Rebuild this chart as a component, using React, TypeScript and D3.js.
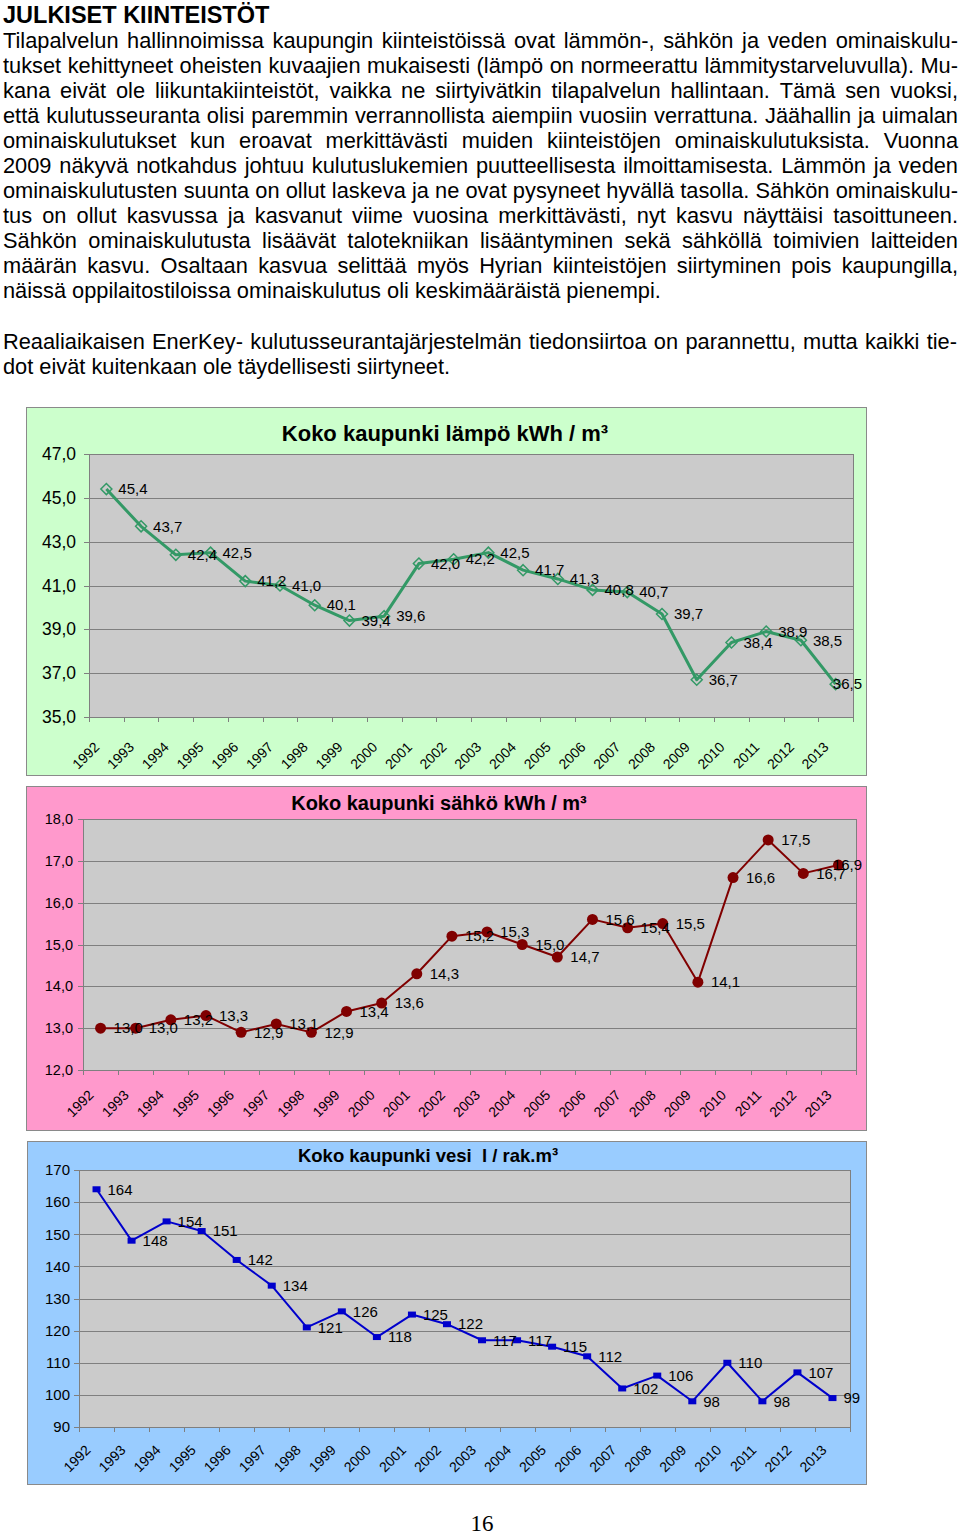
import React, { useMemo } from 'react';
import * as d3 from 'd3';

const FONT = '"Liberation Sans", Arial, Helvetica, sans-serif';

const years = ['1992','1993','1994','1995','1996','1997','1998','1999','2000','2001','2002','2003','2004','2005','2006','2007','2008','2009','2010','2011','2012','2013'];
const heatValues = [45.4, 43.7, 42.4, 42.5, 41.2, 41.0, 40.1, 39.4, 39.6, 42.0, 42.2, 42.5, 41.7, 41.3, 40.8, 40.7, 39.7, 36.7, 38.4, 38.9, 38.5, 36.5];
const elecValues = [13.0, 13.0, 13.2, 13.3, 12.9, 13.1, 12.9, 13.4, 13.6, 14.3, 15.2, 15.3, 15.0, 14.7, 15.6, 15.4, 15.5, 14.1, 16.6, 17.5, 16.7, 16.9];
const waterValues = [164, 148, 154, 151, 142, 134, 121, 126, 118, 125, 122, 117, 117, 115, 112, 102, 106, 98, 110, 98, 107, 99];
const heatTicks = [35, 37, 39, 41, 43, 45, 47];
const elecTicks = [12, 13, 14, 15, 16, 17, 18];
const waterTicks = [90, 100, 110, 120, 130, 140, 150, 160, 170];

const heading = 'JULKISET KIINTEISTÖT';
const paragraph1 = [
  'Tilapalvelun hallinnoimissa kaupungin kiinteistöissä ovat lämmön-, sähkön ja veden ominaiskulu-',
  'tukset kehittyneet oheisten kuvaajien mukaisesti (lämpö on normeerattu lämmitystarveluvulla). Mu-',
  'kana eivät ole liikuntakiinteistöt, vaikka ne siirtyivätkin tilapalvelun hallintaan. Tämä sen vuoksi,',
  'että kulutusseuranta olisi paremmin verrannollista aiempiin vuosiin verrattuna. Jäähallin ja uimalan',
  'ominaiskulutukset kun eroavat merkittävästi muiden kiinteistöjen ominaiskulutuksista. Vuonna',
  '2009 näkyvä notkahdus johtuu kulutuslukemien puutteellisesta ilmoittamisesta. Lämmön ja veden',
  'ominaiskulutusten suunta on ollut laskeva ja ne ovat pysyneet hyvällä tasolla. Sähkön ominaiskulu-',
  'tus on ollut kasvussa ja kasvanut viime vuosina merkittävästi, nyt kasvu näyttäisi tasoittuneen.',
  'Sähkön ominaiskulutusta lisäävät talotekniikan lisääntyminen sekä sähköllä toimivien laitteiden',
  'määrän kasvu. Osaltaan kasvua selittää myös Hyrian kiinteistöjen siirtyminen pois kaupungilla,',
  'näissä oppilaitostiloissa ominaiskulutus oli keskimääräistä pienempi.',
];
const paragraph2 = [
  'Reaaliaikaisen EnerKey- kulutusseurantajärjestelmän tiedonsiirtoa on parannettu, mutta kaikki tie-',
  'dot eivät kuitenkaan ole täydellisesti siirtyneet.',
];
const pageNumber = '16';

const BODY_SIZE = 21.8;

let ctx: CanvasRenderingContext2D | null = null;
function measure(text: string, font: string) {
  if (!ctx) ctx = document.createElement('canvas').getContext('2d');
  ctx!.font = font;
  return ctx!.measureText(text).width;
}

function JustifiedLine({ text, y, justify, left, right }: { text: string; y: number; justify: boolean; left: number; right: number }) {
  const font = `${BODY_SIZE}px "Liberation Sans"`;
  if (!justify) {
    return <text x={left} y={y} fontSize={BODY_SIZE} fontFamily={FONT}>{text}</text>;
  }
  const words = text.split(' ');
  const widths = words.map(w => measure(w, font));
  const total = d3.sum(widths);
  const gap = (right - left - total) / (words.length - 1);
  let x = left;
  const xs = widths.map(w => { const cur = x; x += w + gap; return cur; });
  return (
    <g>
      {words.map((w, i) => (
        <text key={i} x={xs[i]} y={y} fontSize={BODY_SIZE} fontFamily={FONT}>{w}</text>
      ))}
    </g>
  );
}

type Spec = {
  frame: [number, number, number, number];
  plot: [number, number, number, number];
  domain: [number, number];
  ticks: number[];
  values: number[];
  decimals: number;
  title: string;
  titleX: number;
  titleY: number;
  titleSize: number;
  tickSize: number;
  tickRight: number;
  labelSize: number;
  labelDx: number;
  xLabelSize: number;
  xLabelDx: number;
  xLabelDy: number;
  bg: string;
  color: string;
  lineWidth: number;
  marker: 'diamond' | 'circle' | 'square';
};

function fmt(v: number, dec: number) {
  return d3.format(`.${dec}f`)(v).replace('.', ',');
}

function LineChart(s: Spec) {
  const [px0, py0, px1, py1] = s.plot;
  const x = d3.scaleBand<string>().domain(years).range([px0, px1]).padding(0);
  const y = d3.scaleLinear().domain(s.domain).range([py1, py0]);
  const cx = (i: number) => (x(years[i]) as number) + x.bandwidth() / 2;
  const line = d3.line<number>().x((_, i) => cx(i)).y(d => y(d));
  const [fx0, fy0, fx1, fy1] = s.frame;
  const grid = '#7f7f7f';
  const labelFont = `${s.labelSize}px "Liberation Sans"`;
  const labelLimit = fx1 - 4;
  return (
    <g>
      <rect x={fx0 + 0.5} y={fy0 + 0.5} width={fx1 - fx0} height={fy1 - fy0} fill={s.bg} stroke="#8a8a8a" strokeWidth={1} />
      <rect x={px0} y={py0} width={px1 - px0} height={py1 - py0} fill="#cbcbcb" />
      {s.ticks.map(t => (
        <g key={t}>
          <line x1={px0 - 5} x2={px1} y1={Math.round(y(t)) + 0.5} y2={Math.round(y(t)) + 0.5} stroke={grid} strokeWidth={1} />
          <text x={s.tickRight} y={y(t)} dy="0.35em" textAnchor="end" fontSize={s.tickSize} fontFamily={FONT}>{fmt(t, s.decimals)}</text>
        </g>
      ))}
      <line x1={px1 + 0.5} x2={px1 + 0.5} y1={py0} y2={py1} stroke={grid} />
      <line x1={px0 + 0.5} x2={px0 + 0.5} y1={py0} y2={py1} stroke={grid} />
      {years.concat(['end']).map((yr, i) => {
        const xx = Math.round(i < years.length ? (x(yr) as number) : px1) + 0.5;
        return <line key={i} x1={xx} x2={xx} y1={py1} y2={py1 + 5} stroke={grid} />;
      })}
      {years.map((yr, i) => {
        const ax = cx(i) + s.xLabelDx;
        const ay = py1 + s.xLabelDy;
        return (
          <text key={yr} x={ax} y={ay} transform={`rotate(-45 ${ax} ${ay})`} textAnchor="end" fontSize={s.xLabelSize} fontFamily={FONT}>{yr}</text>
        );
      })}
      <path d={line(s.values) || ''} fill="none" stroke={s.color} strokeWidth={s.lineWidth} strokeLinejoin="round" />
      {s.values.map((v, i) => {
        const mx = cx(i), my = y(v);
        if (s.marker === 'diamond') {
          const r = 5.5;
          return <path key={i} d={`M${mx},${my - r}L${mx + r},${my}L${mx},${my + r}L${mx - r},${my}Z`} fill="none" stroke={s.color} strokeWidth={1.5} />;
        }
        if (s.marker === 'circle') {
          return <circle key={i} cx={mx} cy={my} r={5.5} fill={s.color} />;
        }
        return <rect key={i} x={mx - 4} y={my - 3} width={8} height={6} fill={s.color} />;
      })}
      {s.values.map((v, i) => {
        const txt = fmt(v, s.decimals);
        const w = measure(txt, labelFont);
        const lx = Math.min(cx(i) + s.labelDx, labelLimit - w);
        return <text key={i} x={lx} y={y(v)} dy="0.35em" fontSize={s.labelSize} fontFamily={FONT}>{txt}</text>;
      })}
      <text x={s.titleX} y={s.titleY} textAnchor="middle" fontSize={s.titleSize} fontWeight="bold" fontFamily={FONT} style={{ whiteSpace: 'pre' }}>{s.title}</text>
    </g>
  );
}

export default function App() {
  const charts: Spec[] = useMemo(() => [
    {
      frame: [26, 407, 866, 775], plot: [89, 454, 853, 717], domain: [35, 47], ticks: heatTicks, values: heatValues, decimals: 1,
      title: 'Koko kaupunki lämpö kWh / m³', titleX: 445, titleY: 441, titleSize: 22,
      tickSize: 17.5, tickRight: 76, labelSize: 15, labelDx: 12, xLabelSize: 14, xLabelDx: -6, xLabelDy: 31,
      bg: '#ccffcc', color: '#339966', lineWidth: 3, marker: 'diamond',
    },
    {
      frame: [26, 786, 866, 1130], plot: [83, 819, 856, 1070], domain: [12, 18], ticks: elecTicks, values: elecValues, decimals: 1,
      title: 'Koko kaupunki sähkö kWh / m³', titleX: 439, titleY: 810, titleSize: 20,
      tickSize: 14.5, tickRight: 73, labelSize: 15, labelDx: 13, xLabelSize: 14, xLabelDx: -6, xLabelDy: 26,
      bg: '#ff99cc', color: '#800000', lineWidth: 2, marker: 'circle',
    },
    {
      frame: [27, 1141, 866, 1484], plot: [79, 1170, 850, 1427], domain: [90, 170], ticks: waterTicks, values: waterValues, decimals: 0,
      title: 'Koko kaupunki vesi  l / rak.m³', titleX: 428, titleY: 1162, titleSize: 18.5,
      tickSize: 15, tickRight: 70, labelSize: 15, labelDx: 11, xLabelSize: 14, xLabelDx: -5, xLabelDy: 24,
      bg: '#99ccff', color: '#0000cc', lineWidth: 2, marker: 'square',
    },
  ], []);

  return (
    <svg width={960} height={1535} style={{ position: 'absolute', left: 0, top: 0, background: '#fff' }}>
      <rect x={0} y={0} width={960} height={1535} fill="#fff" />
      <text x={3} y={23} fontSize={23.5} fontWeight="bold" fontFamily={FONT}>{heading}</text>
      {paragraph1.map((t, i) => (
        <JustifiedLine key={i} text={t} y={48 + i * 25} justify={i < paragraph1.length - 1} left={3} right={958} />
      ))}
      {paragraph2.map((t, i) => (
        <JustifiedLine key={i} text={t} y={349 + i * 25} justify={i < paragraph2.length - 1} left={3} right={957} />
      ))}
      {charts.map((c, i) => <LineChart key={i} {...c} />)}
      <text x={482} y={1531} textAnchor="middle" fontSize={23} fontFamily='"Liberation Serif", "Times New Roman", serif'>{pageNumber}</text>
    </svg>
  );
}
